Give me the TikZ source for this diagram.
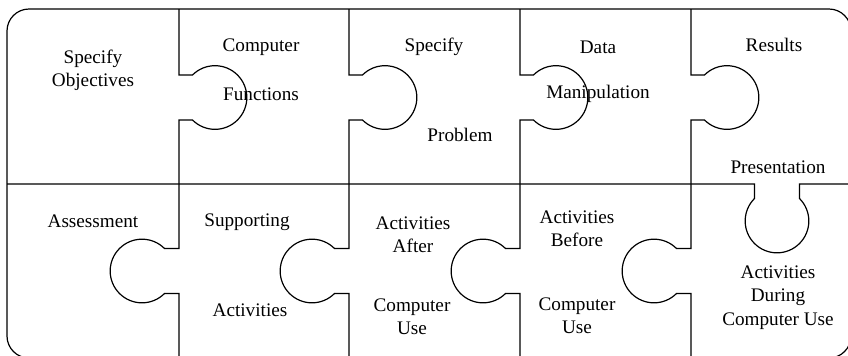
\documentclass[tikz,border=0pt]{standalone}
\usepackage{fontspec}
\setmainfont{Liberation Serif}
\usepackage{tikz}

\begin{document}
\begin{tikzpicture}[x=0.5pt, y=-0.5pt, line width=0.6pt,
    word/.style={font=\fontsize{9.6}{11.6}\selectfont, align=center, inner sep=0pt}]
\useasboundingbox (0,0) rectangle (848,355);
\clip (0,0) rectangle (848,355);

% frame
\draw[rounded corners=11pt] (7,9) rectangle (851,358);

% middle cut, with the knob hanging down from the last piece
\draw (7,184) -- (754.5,184) -- (754.5,198.5)
    arc[start angle=225, end angle=-45, radius=31.82] -- (799.5,184) -- (855,184);

% vertical cuts: knob to the right on top, knob to the left below
\draw (179,9) -- (179,75) -- ++(13.5,0) arc[start angle=225, end angle=495, radius=31.82]
    -- (179,120) -- (179,248.5) -- ++(-14.5,0) arc[start angle=-45, end angle=-315, radius=31.82]
    -- (179,293.5) -- (179,360);
\draw (349,9) -- (349,75) -- ++(13.5,0) arc[start angle=225, end angle=495, radius=31.82]
    -- (349,120) -- (349,248.5) -- ++(-14.5,0) arc[start angle=-45, end angle=-315, radius=31.82]
    -- (349,293.5) -- (349,360);
\draw (520,9) -- (520,75) -- ++(13.5,0) arc[start angle=225, end angle=495, radius=31.82]
    -- (520,120) -- (520,248.5) -- ++(-14.5,0) arc[start angle=-45, end angle=-315, radius=31.82]
    -- (520,293.5) -- (520,360);
\draw (691,9) -- (691,75) -- ++(13.5,0) arc[start angle=225, end angle=495, radius=31.82]
    -- (691,120) -- (691,248.5) -- ++(-14.5,0) arc[start angle=-45, end angle=-315, radius=31.82]
    -- (691,293.5) -- (691,360);

% top row
\node[word] (objectives) at (93,70) {Specify\\Objectives};
\node[word] (computer) at (261,47) {Computer};
\node[word] (functions) at (261,94) {Functions};
\node[word] (specify) at (434,47) {Specify};
\node[word] (problem) at (460,135) {Problem};
\node[word] (data) at (598,47) {Data};
\node[word] (manipulation) at (598,94) {Manipulation};
\node[word] (results) at (774,45) {Results};
\node[word] (presentation) at (778,167) {Presentation};

% bottom row
\node[word] (assessment) at (93,221) {Assessment};
\node[word] (supporting) at (247,222) {Supporting};
\node[word] (activities) at (250,310) {Activities};
\node[word] (after) at (413,234.5) {Activities\\After};
\node[word] (afteruse) at (412,316.5) {Computer\\Use};
\node[word] (before) at (577,229) {Activities\\Before};
\node[word] (beforeuse) at (577,316) {Computer\\Use};
\node[word] (during) at (778,297.5) {Activities\\During\\Computer Use};
\end{tikzpicture}
\end{document}
